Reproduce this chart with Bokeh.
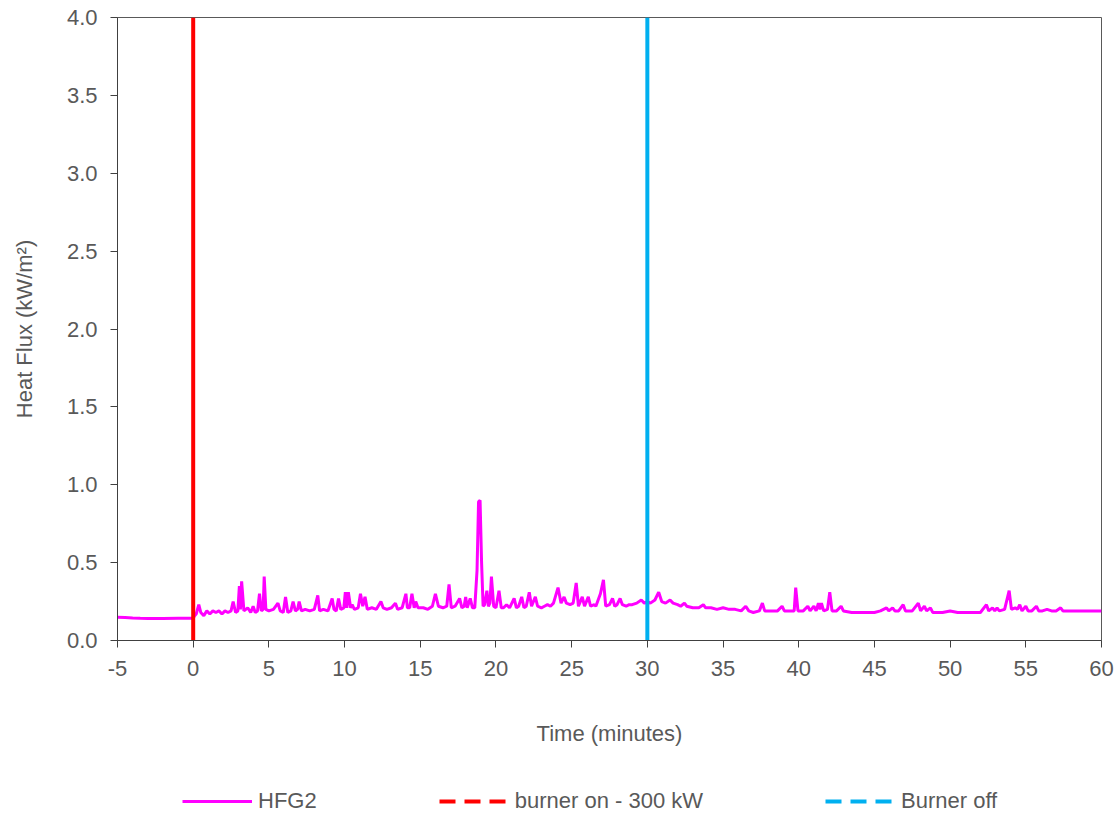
from bokeh.plotting import figure
from bokeh.layouts import column
from bokeh.models import Range1d, FixedTicker, LegendItem, Legend
from bokeh.embed import file_html
from bokeh.resources import INLINE

# ---- data ----
time_min = [
    -5.0, -4.5, -4.0, -3.5, -3.0, -2.0, -1.0, -0.5, 0.0,
    0.1, 0.2, 0.37, 0.5, 0.7, 0.9, 1.1, 1.3, 1.5, 1.7, 1.9, 2.1, 2.3, 2.5, 2.64, 2.8, 2.95,
    3.05, 3.12, 3.2, 3.35, 3.6, 3.8, 3.96, 4.1, 4.25, 4.38, 4.5, 4.62, 4.69, 4.8, 5.0, 5.3,
    5.6, 5.75, 5.95, 6.1, 6.25, 6.45, 6.6, 6.75, 6.9, 7.0, 7.15, 7.4, 7.7, 8.0, 8.23, 8.35,
    8.6, 8.9, 9.18, 9.3, 9.45, 9.6, 9.75, 9.95, 10.05, 10.15, 10.25, 10.4, 10.5, 10.65,
    10.9, 11.05, 11.2, 11.35, 11.5, 11.8, 12.1, 12.4, 12.55, 12.8, 13.1, 13.36, 13.5, 13.8,
    14.05, 14.15, 14.3, 14.45, 14.6, 14.7, 14.85, 15.2, 15.5, 15.8, 16.0, 16.2, 16.5, 16.75,
    16.9, 17.05, 17.3, 17.6, 17.75, 17.9, 18.0, 18.1, 18.3, 18.45, 18.6, 18.75, 18.85, 18.95,
    19.05, 19.15, 19.25, 19.4, 19.5, 19.6, 19.7, 19.85, 20.0, 20.2, 20.35, 20.5, 20.7, 20.9,
    21.2, 21.35, 21.5, 21.7, 21.85, 22.0, 22.2, 22.35, 22.6, 22.75, 23.0, 23.2, 23.4, 23.6,
    23.8, 24.1, 24.3, 24.5, 24.65, 24.9, 25.1, 25.3, 25.45, 25.7, 25.85, 26.1, 26.25, 26.5,
    26.6, 26.9, 27.1, 27.25, 27.5, 27.7, 27.85, 28.0, 28.2, 28.35, 28.6, 28.8, 29.0, 29.3,
    29.6, 29.8, 30.0, 30.2, 30.5, 30.75, 30.95, 31.2, 31.5, 31.7, 32.0, 32.2, 32.45, 32.6,
    33.0, 33.4, 33.7, 33.85, 34.2, 34.6, 35.0, 35.4, 35.8, 36.2, 36.5, 36.7, 37.0, 37.4,
    37.6, 37.75, 38.2, 38.6, 38.9, 39.05, 39.4, 39.7, 39.8, 39.95, 40.3, 40.6, 40.75, 41.0,
    41.15, 41.3, 41.4, 41.5, 41.65, 41.9, 42.05, 42.2, 42.5, 42.8, 42.95, 43.5, 44.0, 44.5,
    45.0, 45.4, 45.8, 45.95, 46.2, 46.35, 46.6, 46.9, 47.05, 47.5, 47.9, 48.05, 48.3, 48.45,
    48.7, 48.85, 49.5, 50.0, 50.5, 51.0, 51.5, 52.0, 52.4, 52.55, 52.8, 52.95, 53.1, 53.25,
    53.6, 53.9, 54.05, 54.3, 54.45, 54.6, 54.75, 55.0, 55.15, 55.4, 55.7, 55.85, 56.1, 56.4,
    56.7, 57.0, 57.3, 57.45, 58.0, 58.5, 59.0, 59.5, 60.0,
]
hfg2 = [
    0.150, 0.148, 0.145, 0.143, 0.142, 0.142, 0.143, 0.143, 0.143,
    0.16, 0.17, 0.23, 0.18, 0.16, 0.19, 0.17, 0.19, 0.18, 0.19, 0.17, 0.19, 0.18, 0.19, 0.25, 0.18, 0.19,
    0.35, 0.20, 0.38, 0.19, 0.21, 0.18, 0.22, 0.18, 0.19, 0.30, 0.19, 0.20, 0.41, 0.20, 0.19, 0.20,
    0.24, 0.19, 0.18, 0.28, 0.18, 0.19, 0.25, 0.19, 0.20, 0.25, 0.19, 0.20, 0.19, 0.20, 0.29, 0.19,
    0.20, 0.19, 0.27, 0.20, 0.19, 0.27, 0.20, 0.21, 0.31, 0.21, 0.31, 0.21, 0.23, 0.20,
    0.21, 0.30, 0.22, 0.28, 0.20, 0.21, 0.20, 0.25, 0.21, 0.20, 0.21, 0.24, 0.20, 0.21,
    0.30, 0.21, 0.21, 0.30, 0.21, 0.25, 0.21, 0.21, 0.20, 0.22, 0.30, 0.22, 0.21, 0.22,
    0.36, 0.21, 0.22, 0.27, 0.21, 0.22, 0.28, 0.21, 0.27, 0.21, 0.21, 0.45, 0.89, 0.90,
    0.50, 0.22, 0.23, 0.32, 0.22, 0.24, 0.41, 0.22, 0.21, 0.32, 0.21, 0.21, 0.23, 0.21,
    0.27, 0.21, 0.22, 0.28, 0.21, 0.22, 0.31, 0.22, 0.28, 0.22, 0.21, 0.22, 0.23, 0.22,
    0.24, 0.34, 0.24, 0.28, 0.24, 0.23, 0.24, 0.37, 0.22, 0.28, 0.22, 0.28, 0.22, 0.23,
    0.22, 0.30, 0.39, 0.22, 0.23, 0.27, 0.22, 0.23, 0.27, 0.23, 0.22, 0.23, 0.23, 0.24,
    0.26, 0.24, 0.25, 0.24, 0.26, 0.31, 0.25, 0.24, 0.26, 0.24, 0.23, 0.22, 0.24, 0.22,
    0.21, 0.21, 0.23, 0.21, 0.21, 0.20, 0.21, 0.20, 0.20, 0.19, 0.22, 0.19, 0.18, 0.19,
    0.24, 0.19, 0.19, 0.19, 0.22, 0.19, 0.19, 0.19, 0.34, 0.19, 0.19, 0.22, 0.19, 0.22,
    0.19, 0.24, 0.20, 0.24, 0.19, 0.20, 0.31, 0.19, 0.19, 0.22, 0.19, 0.18, 0.18, 0.18,
    0.18, 0.19, 0.21, 0.19, 0.21, 0.19, 0.19, 0.23, 0.19, 0.19, 0.24, 0.19, 0.22, 0.19,
    0.21, 0.18, 0.18, 0.19, 0.18, 0.18, 0.18, 0.18, 0.23, 0.19, 0.21, 0.19, 0.21, 0.19,
    0.20, 0.32, 0.20, 0.21, 0.20, 0.23, 0.19, 0.22, 0.19, 0.19, 0.22, 0.19, 0.19, 0.20,
    0.19, 0.19, 0.21, 0.19, 0.19, 0.19, 0.19, 0.19, 0.19,
]
burner_on_time = [0, 0]
burner_off_time = [30, 30]
marker_span = [0, 4]
x_ticks = [-5, 0, 5, 10, 15, 20, 25, 30, 35, 40, 45, 50, 55, 60]
y_ticks = [0.0, 0.5, 1.0, 1.5, 2.0, 2.5, 3.0, 3.5, 4.0]
series_labels = ["HFG2", "burner on - 300 kW", "Burner off"]

FONT = "Liberation Sans"
TXT = "#595959"
C_HF, C_ON, C_OFF = "#FF00FF", "#FF0000", "#00B0F0"

# ---------------- main chart ----------------
p = figure(width=1120, height=760, output_backend="svg", toolbar_location=None,
           x_range=Range1d(-5, 60), y_range=Range1d(0, 4),
           min_border_left=117, min_border_right=19, min_border_top=17, min_border_bottom=120)
p.background_fill_color = "white"
p.border_fill_color = "white"
p.outline_line_color = "#595959"
p.outline_line_width = 1
p.grid.visible = False

for ax in (p.xaxis[0], p.yaxis[0]):
    ax.axis_line_color = "#404040"
    ax.major_tick_line_color = "#404040"
    ax.major_tick_out = 7
    ax.major_tick_in = 0
    ax.minor_tick_line_color = None
    ax.major_label_text_font = FONT
    ax.major_label_text_font_size = "22px"
    ax.major_label_text_color = TXT
    ax.axis_label_text_font = FONT
    ax.axis_label_text_font_size = "22px"
    ax.axis_label_text_color = TXT
    ax.axis_label_text_font_style = "normal"

p.xaxis.ticker = FixedTicker(ticks=x_ticks)
p.xaxis.major_label_overrides = {t: str(t) for t in x_ticks}
p.xaxis.major_label_standoff = 13
p.xaxis.axis_label = "Time (minutes)"
p.xaxis.axis_label_standoff = 42

p.yaxis.ticker = FixedTicker(ticks=y_ticks)
p.yaxis.major_label_overrides = {t: f"{t:.1f}" for t in y_ticks}
p.yaxis.major_label_standoff = 13
p.yaxis.axis_label = "Heat Flux (kW/m\u00b2)"
p.yaxis.axis_label_standoff = 27

p.line(time_min, hfg2, line_color=C_HF, line_width=3)
p.line(burner_on_time, marker_span, line_color=C_ON, line_width=4)
p.line(burner_off_time, marker_span, line_color=C_OFF, line_width=4)

# ---------------- legend strip ----------------
lg = figure(width=1120, height=54, output_backend="svg", toolbar_location=None,
            x_range=Range1d(1000, 1001), y_range=Range1d(1000, 1001),
            min_border=0, min_border_left=0, min_border_right=0,
            min_border_top=0, min_border_bottom=0)
lg.axis.visible = False
lg.grid.visible = False
lg.outline_line_color = None
lg.background_fill_color = "white"
lg.border_fill_color = "white"

# the same series, drawn outside this strip's ranges: only their legend glyphs show
r_hf = lg.line(time_min, hfg2, line_color=C_HF, line_width=3)
r_on = lg.line(burner_on_time, marker_span, line_color=C_ON, line_width=4, line_dash="16 9")
r_off = lg.line(burner_off_time, marker_span, line_color=C_OFF, line_width=4, line_dash="16 9")

legend = Legend(items=[
    LegendItem(label=series_labels[0], renderers=[r_hf]),
    LegendItem(label=series_labels[1], renderers=[r_on]),
    LegendItem(label=series_labels[2], renderers=[r_off]),
], orientation="horizontal", location=(65, 0),
    label_text_font=FONT, label_text_font_size="22px", label_text_color=TXT,
    glyph_width=70, label_standoff=6, spacing=122, padding=0, margin=0,
    border_line_color=None, background_fill_alpha=0)
lg.add_layout(legend, "center")

layout = column(p, lg, spacing=0)
open("out.html", "w").write(file_html(layout, INLINE))
